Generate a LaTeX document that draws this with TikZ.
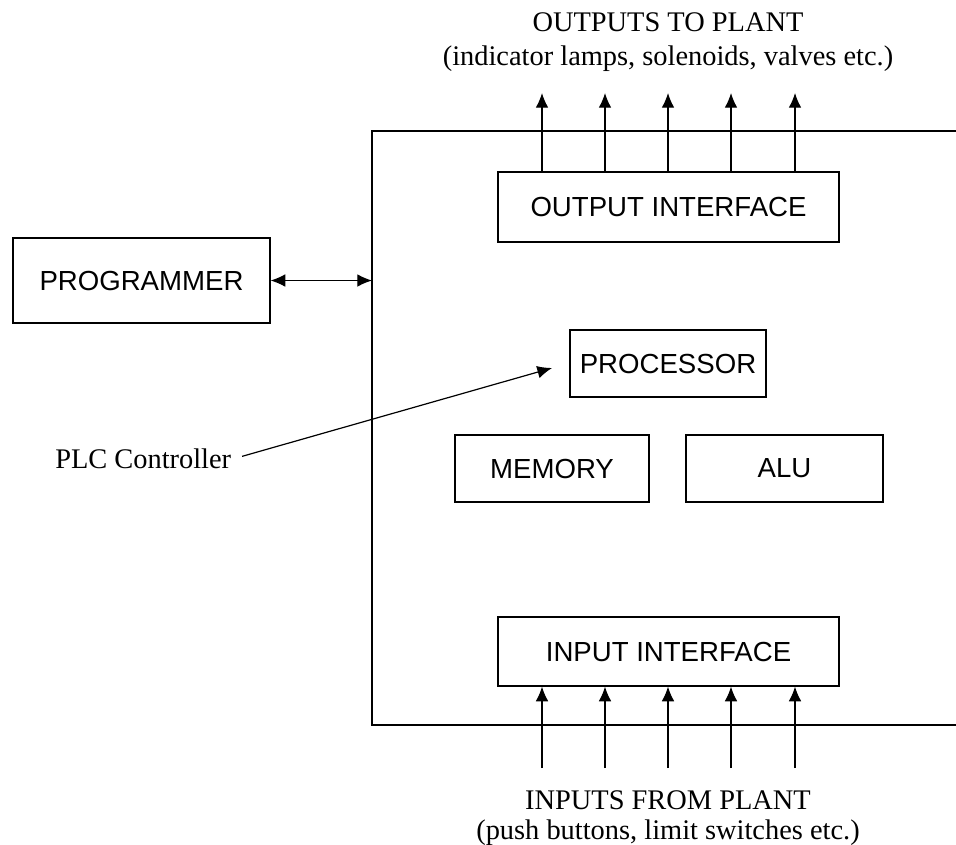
\documentclass[tikz,border=0pt]{standalone}
\usepackage{fontspec}
\setmainfont{Liberation Serif}
\newfontfamily\boxfont{Liberation Sans}
\usetikzlibrary{arrows.meta}

\begin{document}
\begin{tikzpicture}[x=0.75pt,y=-0.75pt,
  unit/.style={draw, line width=0.9pt, inner sep=0pt,
    font=\boxfont\fontsize{20.7}{24}\selectfont},
  caption/.style={align=center, inner sep=0pt, font=\fontsize{21.3}{25}\selectfont},
  sig/.style={line width=0.9pt, -{Latex[length=11pt,width=9.5pt]}},
  bisig/.style={line width=0.9pt, {Latex[length=11pt,width=9.5pt]}-{Latex[length=11pt,width=9.5pt]}}]

  \useasboundingbox (0,0) rectangle (956,844);

  % PLC enclosure, open on the right
  \draw[line width=0.9pt] (956,131) -| (372,725) -- (956,725);
  \coordinate (encl) at (372,131);

  % functional blocks
  \node[unit, minimum width=255.75pt, minimum height=52.5pt]  (out)  at (668.5,207)   {OUTPUT INTERFACE};
  \node[unit, minimum width=192.75pt, minimum height=63.75pt] (prog) at (141.5,280.5) {PROGRAMMER};
  \node[unit, minimum width=147pt,    minimum height=50.25pt] (proc) at (668,363.5)   {PROCESSOR};
  \node[unit, minimum width=145.5pt,  minimum height=50.25pt] (mem)  at (552,468.5)   {MEMORY};
  \node[unit, minimum width=147.75pt, minimum height=50.25pt] (alu)  at (784.5,468.5) {ALU};
  \node[unit, minimum width=255.75pt, minimum height=51.75pt] (in)   at (668.5,651.5) {INPUT INTERFACE};

  % plant signals
  \foreach \x [count=\i] in {542,605,668,731,795} {
    \coordinate (otip\i) at (\x,93);
    \coordinate (ifoot\i) at (\x,768);
    \draw[sig] (out.north -| otip\i) -- (otip\i);
    \draw[sig] (ifoot\i) -- (in.south -| ifoot\i);
  }

  % programmer link
  \draw[bisig] (prog.east) -- (prog.east -| encl);

  % captions
  \node[caption] (outcap) at (668,42)
    {OUTPUTS TO PLANT\\(indicator lamps, solenoids, valves etc.)};
  \node[caption, font=\fontsize{21.3}{22.5}\selectfont] (incap) at (668,818)
    {INPUTS FROM PLANT\\(push buttons, limit switches etc.)};

  \node[caption, anchor=west] (plc) at (55,459) {PLC Controller};
  \coordinate (plctip) at (552,368);
  \draw[sig] ([xshift=8pt,yshift=2pt]plc.east) -- (plctip);
\end{tikzpicture}
\end{document}
